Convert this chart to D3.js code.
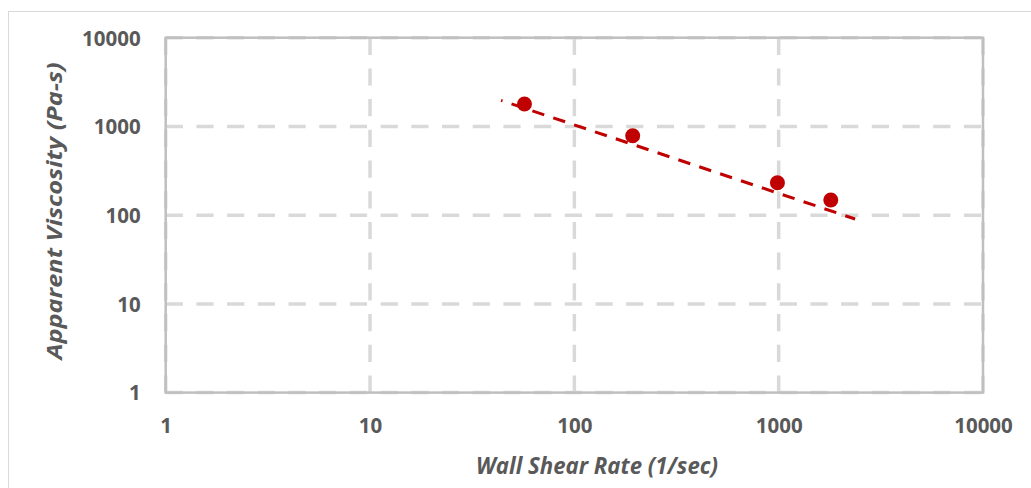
<!DOCTYPE html>
<html>
<head>
<meta charset="utf-8">
<script src="https://cdn.jsdelivr.net/npm/d3@7"></script>
<style>
  html, body { margin: 0; padding: 0; background: #fff; }
  svg { display: block; }
</style>
</head>
<body>
<svg id="chart" width="1031" height="488"></svg>
<script>
// Data
var shearRate = [57, 193, 986, 1799];        // 1/sec
var viscosity = [1790, 786, 232, 148];       // Pa-s
var trendX = [43.8, 2366];                   // power trendline ends
var trendY = [1968, 90.5];
var xTicks = [1, 10, 100, 1000, 10000];
var yTicks = [1, 10, 100, 1000, 10000];

var svg = d3.select("#chart");

// plot area
var plotL = 165.7, plotR = 983, plotT = 37.7, plotB = 392.6;

var x = d3.scaleLog().domain([1, 10000]).range([plotL, plotR]);
var y = d3.scaleLog().domain([1, 10000]).range([plotB, plotT]);

// outer chart border
svg.append("rect")
    .attr("x", 8.5).attr("y", 11.5)
    .attr("width", 1040).attr("height", 500)
    .attr("fill", "#fff")
    .attr("stroke", "#d9d9d9")
    .attr("stroke-width", 1);

// Gridlines
svg.append("g").selectAll("line")
    .data(yTicks)
    .enter()
    .append("line")
    .attr("x1", plotL).attr("x2", plotR)
    .attr("y1", function (d) { return y(d); })
    .attr("y2", function (d) { return y(d); })
    .attr("stroke", "#d9d9d9")
    .attr("stroke-width", 3.5)
    .attr("stroke-dasharray", "17.2,13.5");

svg.append("g").selectAll("line")
    .data(xTicks)
    .enter()
    .append("line")
    .attr("x1", function (d) { return x(d); })
    .attr("x2", function (d) { return x(d); })
    .attr("y1", plotB).attr("y2", plotT)
    .attr("stroke", "#d9d9d9")
    .attr("stroke-width", 3.5)
    .attr("stroke-dasharray", "17.2,13.5");

// plot border
svg.append("rect")
    .attr("x", plotL).attr("y", plotT)
    .attr("width", plotR - plotL).attr("height", plotB - plotT)
    .attr("fill", "none")
    .attr("stroke", "#bfbfbf")
    .attr("stroke-width", 2.5);

// Axes (labels only, no domain / tick marks)
var fmt = function (d) { return String(d); };

var xAxis = svg.append("g")
    .attr("transform", "translate(0," + plotB + ")")
    .call(d3.axisBottom(x).tickValues(xTicks).tickFormat(fmt).tickSize(0));
var yAxis = svg.append("g")
    .attr("transform", "translate(" + plotL + ",0)")
    .call(d3.axisLeft(y).tickValues(yTicks).tickFormat(fmt).tickSize(0).tickPadding(25));

[xAxis, yAxis].forEach(function (ax) {
    ax.select(".domain").remove();
    ax.selectAll("text")
        .style("font-family", "'Open Sans', sans-serif")
        .style("font-size", "20.5px")
        .style("font-weight", 700)
        .attr("fill", "#595959");
});
xAxis.selectAll("text").attr("dy", 0).attr("y", 40.5);
yAxis.selectAll("text").attr("dy", "0.36em");

// trendline (power), dashed
svg.append("line")
    .attr("x1", x(trendX[0])).attr("y1", y(trendY[0]))
    .attr("x2", x(trendX[1])).attr("y2", y(trendY[1]))
    .attr("stroke", "#c00000")
    .attr("stroke-width", 3)
    .attr("stroke-dasharray", "12.5,9.5")
    .attr("stroke-dashoffset", 11);

// data points
svg.append("g").selectAll("circle")
    .data(shearRate)
    .enter()
    .append("circle")
    .attr("cx", function (d) { return x(d); })
    .attr("cy", function (d, i) { return y(viscosity[i]); })
    .attr("r", 7.5)
    .attr("fill", "#c00000");

// axis titles
svg.append("text")
    .attr("x", 597).attr("y", 474)
    .attr("text-anchor", "middle")
    .attr("textLength", 242)
    .attr("lengthAdjust", "spacingAndGlyphs")
    .style("font-family", "'Open Sans', sans-serif")
    .style("font-size", "23px")
    .style("font-weight", 700)
    .style("font-style", "italic")
    .attr("fill", "#595959")
    .text("Wall Shear Rate (1/sec)");

svg.append("text")
    .attr("transform", "translate(62,211) rotate(-90)")
    .attr("text-anchor", "middle")
    .attr("textLength", 297)
    .attr("lengthAdjust", "spacingAndGlyphs")
    .style("font-family", "'Open Sans', sans-serif")
    .style("font-size", "21px")
    .style("font-weight", 700)
    .style("font-style", "italic")
    .attr("fill", "#595959")
    .text("Apparent Viscosity (Pa-s)");
</script>
</body>
</html>
